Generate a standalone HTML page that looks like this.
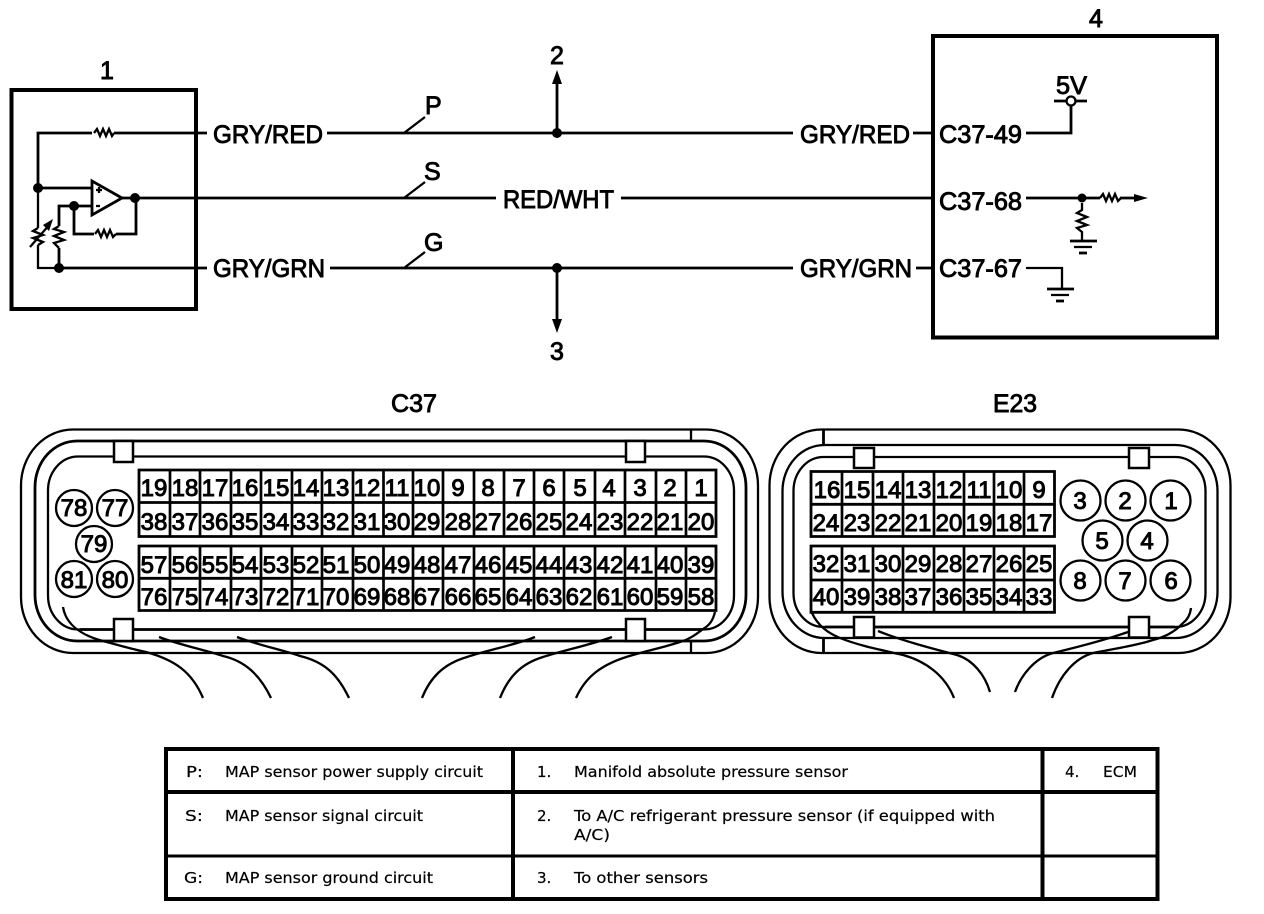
<!DOCTYPE html>
<html><head><meta charset="utf-8">
<style>
html,body{margin:0;padding:0;background:#fff}
svg{display:block}
.l{fill:none;stroke:#000;stroke-width:2.8;stroke-linejoin:miter}
.t{fill:none;stroke:#000;stroke-width:2.3}
.g{fill:none;stroke:#000;stroke-width:2.7}
.b{fill:none;stroke:#000;stroke-width:4}
.d{fill:#000;stroke:none}
.big text{font-family:"Liberation Sans",sans-serif;font-size:25px;fill:#000;stroke:#000;stroke-width:.9}
.n text{font-family:"Liberation Sans",sans-serif;font-size:24px;fill:#000;stroke:#000;stroke-width:1;text-anchor:middle}
.k text{font-family:"DejaVu Sans",sans-serif;font-size:15px;fill:#000;stroke:#000;stroke-width:.2}
</style></head><body>
<svg width="1264" height="914" viewBox="0 0 1264 914" xmlns="http://www.w3.org/2000/svg">
<rect width="1264" height="914" fill="#fff"/>

<!-- schematic boxes -->
<rect class="b" x="11.5" y="90" width="184.5" height="219"/>
<rect class="b" x="933" y="36" width="284" height="301.5"/>

<!-- wires -->
<path class="l" d="M38 188V133H92M114 133H207M327 133H793M913 133H931M1026 133H1071V105"/>
<path class="l" d="M135 198H496M621 198H931M1026 198H1100M1120 198H1135"/>
<path class="l" d="M59 268H207M330 268H793M916 268H931"/>
<path class="t" d="M1026 268H1062V289"/>
<path class="l" d="M557 133V80M557 268V322"/>
<path class="t" d="M404 133L425 117M404 198L425 182M404 268L425 252"/>
<path class="d" d="M557 70L552 84H562ZM557 333L552 319H562ZM1148 198L1134 194V202Z"/>
<circle class="d" cx="557" cy="133" r="5"/>
<circle class="d" cx="557" cy="268" r="5"/>

<!-- sensor internals -->
<polyline class="t" points="94,133 97,129 100,136 103,129 106,136 109,129 112,136 114,133"/>
<path class="t" d="M38 188V228M38 245V268H59"/>
<path class="l" d="M38 188H92M122 198H135M92 206H59V226M59 248V268M74 206V234H94M116 234H136V198"/>
<path class="l" d="M92 181V215L122 198Z"/>
<path class="t" d="M96 190H102M99 187V193M96 206H100"/>
<polyline class="t" points="95,234 98,230 101,237 104,230 107,237 110,230 113,237 116,234"/>
<polyline class="t" points="59,226 54,229 64,232 54,236 64,240 54,243 59,248"/>
<polyline class="t" points="38,228 33,231 43,235 33,238 43,242 38,245"/>
<path class="t" d="M30 247L50 224"/>
<path class="d" d="M53 219L43 225L49 231Z"/>
<circle class="d" cx="38" cy="188" r="5"/>
<circle class="d" cx="135" cy="198" r="5"/>
<circle class="d" cx="74" cy="206" r="5"/>
<circle class="d" cx="59" cy="268" r="5"/>

<!-- ECM internals -->
<path class="l" d="M1054 101H1066M1076 101H1087"/>
<circle cx="1071" cy="101" r="4.500" fill="#fff" stroke="#000" stroke-width="2.300"/>
<circle class="d" cx="1082" cy="198" r="4.500"/>
<polyline class="t" points="1100,198 1103,194 1106,201 1109,194 1112,201 1115,194 1118,201 1121,198"/>
<polyline class="t" points="1082,203 1082,210 1077,213 1087,217 1077,221 1087,225 1077,228 1082,232 1082,241"/>
<path class="l" d="M1070 241H1097"/><path class="t" d="M1074 247H1092"/><path class="l" d="M1079 253H1087"/>
<path class="l" d="M1047 289H1074"/><path class="t" d="M1051 295H1069"/><path class="l" d="M1056 301H1064"/>

<!-- schematic labels -->
<g class="big">
<text x="100" y="79">1</text>
<text x="1089" y="27">4</text>
<text x="550" y="64">2</text>
<text x="550" y="360">3</text>
<text x="425" y="114">P</text>
<text x="424" y="180">S</text>
<text x="424" y="251">G</text>
<text x="213" y="143" textLength="110" lengthAdjust="spacingAndGlyphs">GRY/RED</text>
<text x="213" y="277" textLength="112" lengthAdjust="spacingAndGlyphs">GRY/GRN</text>
<text x="503" y="208" textLength="111" lengthAdjust="spacingAndGlyphs">RED/WHT</text>
<text x="800" y="143" textLength="110" lengthAdjust="spacingAndGlyphs">GRY/RED</text>
<text x="800" y="277" textLength="112" lengthAdjust="spacingAndGlyphs">GRY/GRN</text>
<text x="939" y="143" textLength="83" lengthAdjust="spacingAndGlyphs">C37-49</text>
<text x="939" y="210" textLength="83" lengthAdjust="spacingAndGlyphs">C37-68</text>
<text x="939" y="277" textLength="83" lengthAdjust="spacingAndGlyphs">C37-67</text>
<text x="1056" y="94" textLength="31" lengthAdjust="spacingAndGlyphs">5V</text>
<text x="391" y="412" textLength="46" lengthAdjust="spacingAndGlyphs">C37</text>
<text x="993" y="412" textLength="44" lengthAdjust="spacingAndGlyphs">E23</text>
</g>

<!-- C37 connector -->
<rect class="t" x="21" y="429.500" width="737" height="223.500" rx="52" ry="56"/>
<rect class="l" x="35" y="441" width="711" height="200" rx="42" ry="46"/>
<rect class="t" x="48" y="456.500" width="686" height="173" rx="30" ry="34"/>
<path class="l" d="M80 629.500H702"/>
<path class="t" d="M691 430V441M691 641V653"/>
<rect x="114" y="441" width="19" height="21" fill="#fff" stroke="#000" stroke-width="2.500"/>
<rect x="626" y="441" width="19" height="21" fill="#fff" stroke="#000" stroke-width="2.500"/>
<rect x="114" y="619" width="19" height="22" fill="#fff" stroke="#000" stroke-width="2.500"/>
<rect x="626" y="619" width="19" height="22" fill="#fff" stroke="#000" stroke-width="2.500"/>
<g class="t">
<path d="M63 607C66 626 84 636 103 641C118 645 135 650 146 652C175 660 192 672 203 698"/>
<path d="M159 637C180 645 205 650 223 656C245 661 260 675 271 698"/>
<path d="M237 637C258 645 283 650 300 656C325 662 338 675 349 698"/>
<path d="M535 637C515 645 488 650 467 657C443 664 430 678 422 698"/>
<path d="M612 637C590 645 565 650 543 657C520 664 508 678 500 698"/>
<path d="M715 612C713 620 710 625 703 629C695 635 690 639 680 642C665 647 650 650 633 655C600 664 585 678 576 698"/>
</g>
<path class="l" d="M139 470H716V536.500H139ZM139 502.500H716M139 546H716V610.500H139ZM139 578.300H716"/>
<path class="g" d="M170 470V536M200 470V536M231 470V536M261 470V536M292 470V536M322 470V536M353 470V536M383.500 470V536M413 470V536M443 470V536M474 470V536M504 470V536M534 470V536M564 470V536M595 470V536M625 470V536M656 470V536M686 470V536M170 546V610M200 546V610M231 546V610M261 546V610M292 546V610M322 546V610M353 546V610M383.500 546V610M413 546V610M443 546V610M474 546V610M504 546V610M534 546V610M564 546V610M595 546V610M625 546V610M656 546V610M686 546V610"/>
<g class="t">
<circle cx="74" cy="508" r="18"/><circle cx="115" cy="508" r="18"/><circle cx="94" cy="544" r="18"/><circle cx="74" cy="579" r="18"/><circle cx="115" cy="579" r="18"/>
</g>
<g class="n">
<text x="74" y="516">78</text><text x="115" y="516">77</text><text x="94" y="552">79</text><text x="74" y="588">81</text><text x="115" y="588">80</text>
<text x="154" y="496">19</text><text x="185" y="496">18</text><text x="215" y="496">17</text><text x="245" y="496">16</text><text x="276" y="496">15</text><text x="306" y="496">14</text><text x="336" y="496">13</text><text x="367" y="496">12</text><text x="397" y="496">11</text><text x="427" y="496">10</text><text x="458" y="496">9</text><text x="488" y="496">8</text><text x="519" y="496">7</text><text x="549" y="496">6</text><text x="580" y="496">5</text><text x="609" y="496">4</text><text x="640" y="496">3</text><text x="670" y="496">2</text><text x="701" y="496">1</text>
<text x="154" y="530">38</text><text x="185" y="530">37</text><text x="215" y="530">36</text><text x="245" y="530">35</text><text x="276" y="530">34</text><text x="306" y="530">33</text><text x="336" y="530">32</text><text x="367" y="530">31</text><text x="397" y="530">30</text><text x="427" y="530">29</text><text x="458" y="530">28</text><text x="488" y="530">27</text><text x="519" y="530">26</text><text x="549" y="530">25</text><text x="579" y="530">24</text><text x="610" y="530">23</text><text x="640" y="530">22</text><text x="670" y="530">21</text><text x="701" y="530">20</text>
<text x="154" y="573">57</text><text x="185" y="573">56</text><text x="215" y="573">55</text><text x="245" y="573">54</text><text x="276" y="573">53</text><text x="306" y="573">52</text><text x="336" y="573">51</text><text x="367" y="573">50</text><text x="397" y="573">49</text><text x="427" y="573">48</text><text x="458" y="573">47</text><text x="488" y="573">46</text><text x="519" y="573">45</text><text x="549" y="573">44</text><text x="579" y="573">43</text><text x="610" y="573">42</text><text x="640" y="573">41</text><text x="670" y="573">40</text><text x="701" y="573">39</text>
<text x="154" y="605">76</text><text x="185" y="605">75</text><text x="215" y="605">74</text><text x="245" y="605">73</text><text x="276" y="605">72</text><text x="306" y="605">71</text><text x="336" y="605">70</text><text x="367" y="605">69</text><text x="397" y="605">68</text><text x="427" y="605">67</text><text x="458" y="605">66</text><text x="488" y="605">65</text><text x="519" y="605">64</text><text x="549" y="605">63</text><text x="579" y="605">62</text><text x="610" y="605">61</text><text x="640" y="605">60</text><text x="670" y="605">59</text><text x="701" y="605">58</text>
</g>

<!-- E23 connector -->
<rect class="t" x="769.500" y="429.500" width="461" height="223.500" rx="52" ry="56"/>
<rect class="t" x="782.500" y="445" width="435" height="193" rx="42" ry="46"/>
<rect class="t" x="793.500" y="457" width="412" height="170" rx="30" ry="34"/>
<path class="l" d="M823.500 430V445M823.500 638V653"/>
<path class="l" d="M825 627H1175"/>
<rect x="854" y="448" width="20" height="20" fill="#fff" stroke="#000" stroke-width="2.500"/>
<rect x="1129" y="448" width="20" height="20" fill="#fff" stroke="#000" stroke-width="2.500"/>
<rect x="854" y="617" width="20" height="20.500" fill="#fff" stroke="#000" stroke-width="2.500"/>
<rect x="1129" y="617" width="20" height="20.500" fill="#fff" stroke="#000" stroke-width="2.500"/>
<g class="t">
<path d="M812 613C818 626 828 633 840 638C860 646 882 650 903 655C925 661 945 675 954 698"/>
<path d="M878 631C900 640 930 648 957 655C973 660 985 675 990 692"/>
<path d="M1128 632C1105 640 1078 647 1053 653C1035 658 1021 675 1015 692"/>
<path d="M1191 608C1190 616 1187 620 1183 623C1175 632 1165 637 1153 640C1135 646 1113 649 1093 653C1075 658 1060 675 1052 698"/>
</g>
<path class="l" d="M811 471.500H1054.500V536.500H811ZM811 504.300H1054.500M811 546H1054.500V612.300H811ZM811 580H1054.500"/>
<path class="g" d="M842 472V536M873 472V536M903 472V536M934 472V536M964 472V536M994 472V536M1024 472V536M842 546V612M873 546V612M903 546V612M934 546V612M964 546V612M994 546V612M1024 546V612"/>
<g class="t">
<circle cx="1080.500" cy="500.500" r="20"/><circle cx="1125.500" cy="500.500" r="20"/><circle cx="1170.500" cy="500.500" r="20"/>
<circle cx="1102.500" cy="540.500" r="20"/><circle cx="1147.500" cy="540.500" r="20"/>
<circle cx="1080.500" cy="580.500" r="20"/><circle cx="1125.500" cy="580.500" r="20"/><circle cx="1170.500" cy="580.500" r="20"/>
</g>
<g class="n">
<text x="1080" y="509">3</text><text x="1125" y="509">2</text><text x="1171" y="509">1</text><text x="1102" y="549">5</text><text x="1147" y="549">4</text><text x="1080" y="589">8</text><text x="1125" y="589">7</text><text x="1171" y="589">6</text>
<text x="827" y="498">16</text><text x="857" y="498">15</text><text x="888" y="498">14</text><text x="918" y="498">13</text><text x="949" y="498">12</text><text x="979" y="498">11</text><text x="1009" y="498">10</text><text x="1039" y="498">9</text>
<text x="826" y="531">24</text><text x="857" y="531">23</text><text x="888" y="531">22</text><text x="918" y="531">21</text><text x="949" y="531">20</text><text x="979" y="531">19</text><text x="1009" y="531">18</text><text x="1039" y="531">17</text>
<text x="826" y="572">32</text><text x="857" y="572">31</text><text x="888" y="572">30</text><text x="918" y="572">29</text><text x="949" y="572">28</text><text x="979" y="572">27</text><text x="1009" y="572">26</text><text x="1039" y="572">25</text>
<text x="826" y="605">40</text><text x="857" y="605">39</text><text x="888" y="605">38</text><text x="918" y="605">37</text><text x="949" y="605">36</text><text x="979" y="605">35</text><text x="1009" y="605">34</text><text x="1039" y="605">33</text>
</g>

<!-- key table -->
<rect x="166" y="749" width="991.500" height="150" fill="none" stroke="#000" stroke-width="4"/>
<path d="M166 792H1157.500" stroke="#000" stroke-width="4"/>
<path d="M166 856H1157.500" stroke="#000" stroke-width="3"/>
<path d="M513 749V899M1042.500 749V899" stroke="#000" stroke-width="4"/>
<g class="k">
<text x="186" y="777" textLength="17" lengthAdjust="spacingAndGlyphs">P:</text>
<text x="225" y="777" textLength="258" lengthAdjust="spacingAndGlyphs">MAP sensor power supply circuit</text>
<text x="185" y="821" textLength="18" lengthAdjust="spacingAndGlyphs">S:</text>
<text x="225" y="821" textLength="198" lengthAdjust="spacingAndGlyphs">MAP sensor signal circuit</text>
<text x="184" y="883" textLength="19" lengthAdjust="spacingAndGlyphs">G:</text>
<text x="225" y="883" textLength="208" lengthAdjust="spacingAndGlyphs">MAP sensor ground circuit</text>
<text x="537" y="777">1.</text>
<text x="574" y="777" textLength="274" lengthAdjust="spacingAndGlyphs">Manifold absolute pressure sensor</text>
<text x="537" y="821">2.</text>
<text x="574" y="821" textLength="421" lengthAdjust="spacingAndGlyphs">To A/C refrigerant pressure sensor (if equipped with</text>
<text x="574" y="840" textLength="36" lengthAdjust="spacingAndGlyphs">A/C)</text>
<text x="537" y="883">3.</text>
<text x="574" y="883" textLength="134" lengthAdjust="spacingAndGlyphs">To other sensors</text>
<text x="1065" y="777">4.</text>
<text x="1103" y="777" textLength="34" lengthAdjust="spacingAndGlyphs">ECM</text>
</g>
</svg>
</body></html>
